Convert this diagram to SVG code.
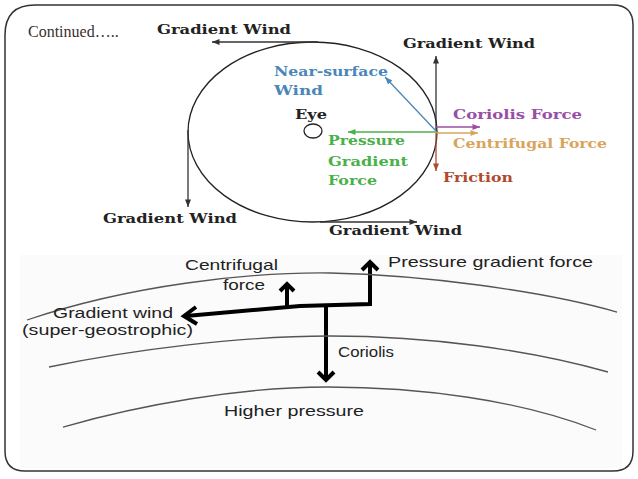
<svg xmlns="http://www.w3.org/2000/svg" width="638" height="479" viewBox="0 0 638 479">
<defs>
<style>
.frame{fill:#ffffff;stroke:#333;stroke-width:1.5}
.tt{font-family:"DejaVu Serif","Liberation Serif",serif;font-weight:bold;font-size:13.5px}
.bt{font-family:"Liberation Sans",Arial,sans-serif;font-size:15px;fill:#222}
.bs{font-size:14px}
.thin{fill:none;stroke-width:1.3}
.thick{fill:none;stroke:#000;stroke-width:4;stroke-linejoin:miter;stroke-linecap:butt}
.iso{fill:none;stroke:#555;stroke-width:1.3}
</style>
<marker id="mDark" viewBox="0 0 10 8" markerWidth="8" markerHeight="6" refX="10" refY="4" orient="auto" markerUnits="userSpaceOnUse"><path d="M0,0 L10,4 L0,8 z" fill="#333"/></marker>
<marker id="mBlue" viewBox="0 0 10 8" markerWidth="8" markerHeight="6" refX="10" refY="4" orient="auto" markerUnits="userSpaceOnUse"><path d="M0,0 L10,4 L0,8 z" fill="#4a86b8"/></marker>
<marker id="mGreen" viewBox="0 0 10 8" markerWidth="8" markerHeight="6" refX="10" refY="4" orient="auto" markerUnits="userSpaceOnUse"><path d="M0,0 L10,4 L0,8 z" fill="#4cb04a"/></marker>
<marker id="mPurple" viewBox="0 0 10 8" markerWidth="8" markerHeight="6" refX="10" refY="4" orient="auto" markerUnits="userSpaceOnUse"><path d="M0,0 L10,4 L0,8 z" fill="#9a4ea6"/></marker>
<marker id="mOrange" viewBox="0 0 10 8" markerWidth="8" markerHeight="6" refX="10" refY="4" orient="auto" markerUnits="userSpaceOnUse"><path d="M0,0 L10,4 L0,8 z" fill="#d9a45c"/></marker>
<marker id="mBrown" viewBox="0 0 10 8" markerWidth="8" markerHeight="6" refX="10" refY="4" orient="auto" markerUnits="userSpaceOnUse"><path d="M0,0 L10,4 L0,8 z" fill="#b04a2e"/></marker>
</defs>

<path class="frame" d="M35,5 L613,5 Q633,5 633,25 L633,451 Q633,471 613,471 L25,471 Q5,471 5,451 L5,35 Q5,5 35,5 Z"/>
<rect x="20" y="255" width="602" height="213" fill="#fbfbfb"/>

<text x="28" y="37" font-family="Liberation Serif, serif" font-size="16" fill="#3a3030">Continued…..</text>

<g id="eye-ring">
<ellipse cx="312.5" cy="132" rx="124.5" ry="90" fill="none" stroke="#222" stroke-width="1.3"/>
</g>
<g id="eye">
<ellipse cx="313" cy="131" rx="9" ry="7" fill="none" stroke="#222" stroke-width="1.3"/>
<text class="tt" x="295" y="119" textLength="32" lengthAdjust="spacingAndGlyphs" fill="#222">Eye</text>
</g>

<g id="connectors">
<path class="thin" stroke="#333" d="M318,42 L212,42" marker-end="url(#mDark)"/>
<path class="thin" stroke="#333" d="M436,130 L436,56" marker-end="url(#mDark)"/>
<path class="thin" stroke="#333" d="M188,130 L188,207" marker-end="url(#mDark)"/>
<path class="thin" stroke="#333" d="M320,222 L417,222" marker-end="url(#mDark)"/>
<path class="thin" stroke="#4a86b8" d="M436,131 L385,77" marker-end="url(#mBlue)"/>
<path class="thin" stroke="#4cb04a" d="M436,132 L348,132" marker-end="url(#mGreen)"/>
<path class="thin" stroke="#9a4ea6" d="M436,127 L480,127" marker-end="url(#mPurple)"/>
<path class="thin" stroke="#d9a45c" d="M436,133 L478,133" marker-end="url(#mOrange)"/>
<path class="thin" stroke="#b04a2e" d="M436,133 L436,171" marker-end="url(#mBrown)"/>

<polyline class="thick" points="370,264 370,304 300,306 186,316"/>
<polyline class="thick" points="196,307 184,316 197,324"/>
<polyline class="thick" points="362,270 370,262 378,270"/>
<line class="thick" x1="287" y1="306" x2="287" y2="284"/>
<polyline class="thick" points="280,291 287,284 294,291"/>
<line class="thick" x1="326" y1="305" x2="326" y2="380"/>
<polyline class="thick" points="318,372 326,380 334,372"/>
</g>

<g id="gw-top"><text class="tt" x="157" y="34" textLength="134" lengthAdjust="spacingAndGlyphs" fill="#222">Gradient Wind</text></g>
<g id="gw-right"><text class="tt" x="403" y="48" textLength="132" lengthAdjust="spacingAndGlyphs" fill="#222">Gradient Wind</text></g>
<g id="gw-left"><text class="tt" x="103" y="223" textLength="134" lengthAdjust="spacingAndGlyphs" fill="#222">Gradient Wind</text></g>
<g id="gw-bottom"><text class="tt" x="329" y="235" textLength="133" lengthAdjust="spacingAndGlyphs" fill="#222">Gradient Wind</text></g>
<g id="near-surface">
<text class="tt" x="274" y="76" textLength="114" lengthAdjust="spacingAndGlyphs" fill="#4a86b8">Near-surface</text>
<text class="tt" x="274" y="95" textLength="49" lengthAdjust="spacingAndGlyphs" fill="#4a86b8">Wind</text>
</g>
<g id="pgf-top">
<text class="tt" x="328" y="145" textLength="77" lengthAdjust="spacingAndGlyphs" fill="#4cb04a">Pressure</text>
<text class="tt" x="328" y="166" textLength="80" lengthAdjust="spacingAndGlyphs" fill="#4cb04a">Gradient</text>
<text class="tt" x="328" y="185" textLength="49" lengthAdjust="spacingAndGlyphs" fill="#4cb04a">Force</text>
</g>
<g id="coriolis-top"><text class="tt" x="453" y="119" textLength="129" lengthAdjust="spacingAndGlyphs" fill="#9a4ea6">Coriolis Force</text></g>
<g id="centrifugal-top"><text class="tt" x="453" y="148" textLength="154" lengthAdjust="spacingAndGlyphs" fill="#d9a45c">Centrifugal Force</text></g>
<g id="friction"><text class="tt" x="443" y="182" textLength="70" lengthAdjust="spacingAndGlyphs" fill="#b04a2e">Friction</text></g>

<g id="isobars">
<path class="iso" d="M27,320 C130,285 250,272 330,273 C420,275 540,290 617,312"/>
<path class="iso" d="M49,367 C130,350 240,336 330,336 C430,336 530,350 608,372"/>
<path class="iso" d="M63,427 C140,405 240,387 327,387 C420,387 520,400 596,430"/>
</g>

<g id="centrifugal-bottom">
<text class="bt" x="185" y="270" textLength="93" lengthAdjust="spacingAndGlyphs">Centrifugal</text>
<text class="bt" x="223" y="290" textLength="42" lengthAdjust="spacingAndGlyphs">force</text>
</g>
<g id="gradient-wind-bottom">
<text class="bt bs" x="53" y="318" textLength="120" lengthAdjust="spacingAndGlyphs">Gradient wind</text>
<text class="bt bs" x="22" y="335" textLength="171" lengthAdjust="spacingAndGlyphs">(super-geostrophic)</text>
</g>
<g id="pgf-bottom"><text class="bt" x="388" y="267" textLength="205" lengthAdjust="spacingAndGlyphs">Pressure gradient force</text></g>
<g id="coriolis-bottom"><text class="bt" x="338" y="357" textLength="56" lengthAdjust="spacingAndGlyphs">Coriolis</text></g>
<g id="higher-pressure"><text class="bt" x="224" y="416" textLength="140" lengthAdjust="spacingAndGlyphs">Higher pressure</text></g>
</svg>
